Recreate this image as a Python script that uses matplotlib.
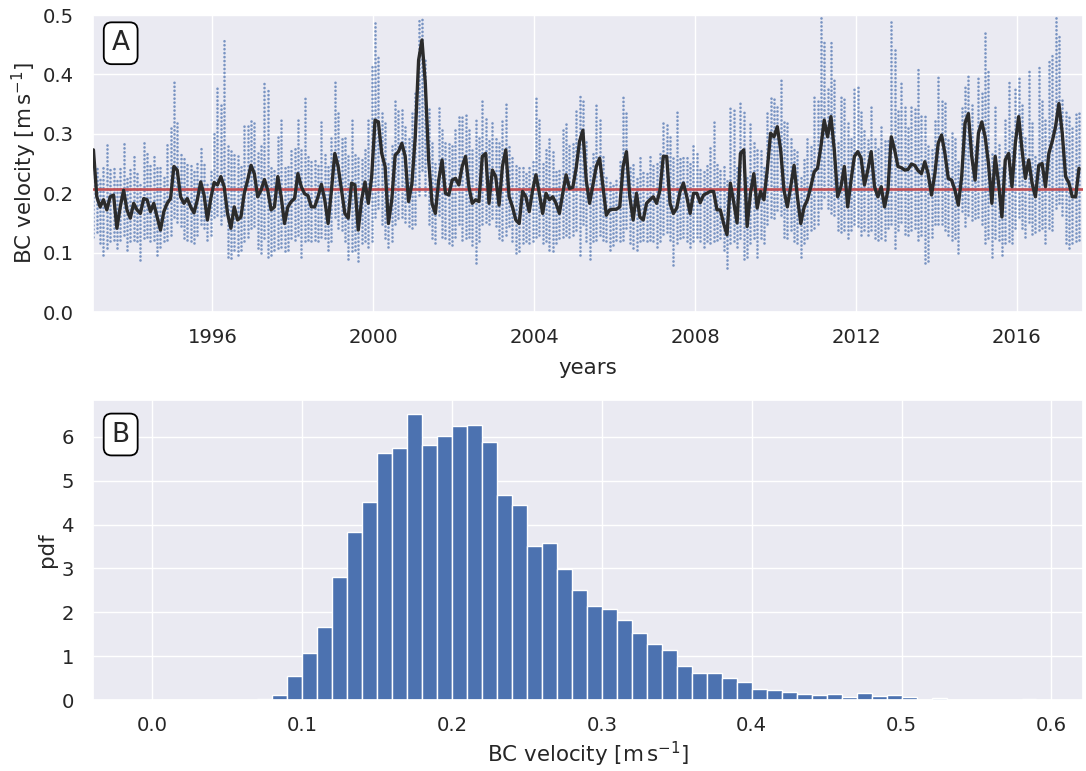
import numpy as np
import matplotlib
matplotlib.use("Agg")
import matplotlib.pyplot as plt
import seaborn as sns

# ---------------------------------------------------------------
# Brazil Current velocity: monthly summaries of the daily record
# (Jan 1993 .. Jul 2017) and the pdf of all daily values.
# ---------------------------------------------------------------
start_year = 1993
n_months = 295

# low-pass filtered velocity (m/s), one value per month
smooth = [
    0.273, 0.194, 0.177, 0.189, 0.172, 0.194, 0.197, 0.141, 0.177, 0.205,
    0.172, 0.158, 0.183, 0.172, 0.166, 0.191, 0.189, 0.169, 0.183, 0.160,
    0.138, 0.169, 0.183, 0.191, 0.245, 0.239, 0.194, 0.183, 0.191, 0.177,
    0.167, 0.189, 0.219, 0.197, 0.155, 0.191, 0.218, 0.214, 0.228, 0.211,
    0.166, 0.141, 0.177, 0.155, 0.160, 0.200, 0.222, 0.247, 0.233, 0.194,
    0.205, 0.223, 0.205, 0.172, 0.177, 0.228, 0.194, 0.149, 0.177, 0.186,
    0.191, 0.233, 0.211, 0.199, 0.196, 0.177, 0.177, 0.194, 0.215, 0.189,
    0.149, 0.205, 0.267, 0.245, 0.205, 0.166, 0.158, 0.217, 0.214, 0.138,
    0.189, 0.219, 0.183, 0.228, 0.323, 0.320, 0.267, 0.245, 0.149, 0.189,
    0.264, 0.270, 0.284, 0.262, 0.186, 0.216, 0.295, 0.424, 0.458, 0.385,
    0.256, 0.183, 0.166, 0.222, 0.256, 0.200, 0.197, 0.222, 0.225, 0.214,
    0.245, 0.262, 0.211, 0.183, 0.189, 0.186, 0.262, 0.267, 0.183, 0.239,
    0.228, 0.180, 0.245, 0.273, 0.194, 0.177, 0.155, 0.149, 0.203, 0.194,
    0.169, 0.205, 0.231, 0.200, 0.166, 0.200, 0.189, 0.194, 0.183, 0.166,
    0.200, 0.231, 0.208, 0.210, 0.242, 0.287, 0.306, 0.222, 0.183, 0.214,
    0.245, 0.259, 0.211, 0.163, 0.172, 0.173, 0.173, 0.177, 0.245, 0.270,
    0.194, 0.155, 0.200, 0.160, 0.155, 0.183, 0.189, 0.194, 0.183, 0.205,
    0.262, 0.262, 0.183, 0.166, 0.175, 0.203, 0.217, 0.194, 0.166, 0.200,
    0.200, 0.184, 0.197, 0.200, 0.203, 0.203, 0.172, 0.172, 0.149, 0.130,
    0.217, 0.185, 0.150, 0.267, 0.273, 0.144, 0.200, 0.233, 0.175, 0.203,
    0.189, 0.239, 0.301, 0.295, 0.312, 0.273, 0.205, 0.177, 0.211, 0.247,
    0.194, 0.149, 0.177, 0.189, 0.211, 0.236, 0.242, 0.278, 0.323, 0.295,
    0.329, 0.273, 0.194, 0.211, 0.245, 0.177, 0.222, 0.262, 0.270, 0.259,
    0.214, 0.239, 0.270, 0.211, 0.194, 0.211, 0.177, 0.205, 0.295, 0.273,
    0.245, 0.243, 0.239, 0.240, 0.249, 0.247, 0.238, 0.233, 0.253, 0.233,
    0.197, 0.233, 0.284, 0.298, 0.267, 0.225, 0.222, 0.205, 0.180, 0.228,
    0.318, 0.334, 0.262, 0.222, 0.301, 0.320, 0.295, 0.250, 0.183, 0.262,
    0.217, 0.160, 0.256, 0.267, 0.211, 0.284, 0.329, 0.273, 0.225, 0.256,
    0.217, 0.194, 0.247, 0.250, 0.211, 0.267, 0.287, 0.312, 0.351, 0.301,
    0.228, 0.217, 0.194, 0.194, 0.242,
]

# lowest and highest daily velocity within each month (m/s)
daily_low = [
    0.127, 0.132, 0.116, 0.093, 0.107, 0.116, 0.121, 0.104, 0.121, 0.127,
    0.104, 0.116, 0.121, 0.116, 0.088, 0.121, 0.127, 0.116, 0.121, 0.093,
    0.110, 0.116, 0.121, 0.127, 0.160, 0.149, 0.144, 0.121, 0.121, 0.116,
    0.116, 0.127, 0.149, 0.138, 0.121, 0.127, 0.160, 0.160, 0.149, 0.160,
    0.093, 0.088, 0.104, 0.093, 0.104, 0.116, 0.127, 0.138, 0.144, 0.104,
    0.099, 0.121, 0.093, 0.093, 0.104, 0.104, 0.110, 0.099, 0.104, 0.121,
    0.121, 0.127, 0.093, 0.116, 0.121, 0.116, 0.121, 0.116, 0.127, 0.121,
    0.104, 0.116, 0.160, 0.138, 0.138, 0.116, 0.090, 0.099, 0.104, 0.082,
    0.116, 0.116, 0.110, 0.116, 0.160, 0.172, 0.149, 0.121, 0.110, 0.116,
    0.149, 0.155, 0.160, 0.149, 0.144, 0.138, 0.149, 0.194, 0.239, 0.194,
    0.149, 0.121, 0.116, 0.160, 0.127, 0.121, 0.116, 0.110, 0.127, 0.144,
    0.121, 0.121, 0.127, 0.110, 0.082, 0.116, 0.149, 0.149, 0.149, 0.155,
    0.144, 0.121, 0.121, 0.127, 0.144, 0.116, 0.099, 0.099, 0.116, 0.116,
    0.116, 0.116, 0.127, 0.127, 0.116, 0.116, 0.104, 0.099, 0.116, 0.121,
    0.127, 0.127, 0.127, 0.127, 0.138, 0.093, 0.149, 0.116, 0.090, 0.116,
    0.121, 0.127, 0.121, 0.116, 0.104, 0.110, 0.121, 0.116, 0.121, 0.138,
    0.116, 0.104, 0.104, 0.116, 0.121, 0.116, 0.121, 0.116, 0.110, 0.116,
    0.132, 0.132, 0.121, 0.076, 0.116, 0.121, 0.127, 0.116, 0.110, 0.116,
    0.127, 0.116, 0.110, 0.116, 0.116, 0.116, 0.121, 0.121, 0.104, 0.071,
    0.116, 0.116, 0.110, 0.121, 0.090, 0.090, 0.116, 0.121, 0.093, 0.121,
    0.116, 0.144, 0.160, 0.155, 0.172, 0.160, 0.127, 0.121, 0.138, 0.116,
    0.116, 0.090, 0.116, 0.121, 0.138, 0.138, 0.149, 0.172, 0.194, 0.172,
    0.166, 0.160, 0.138, 0.132, 0.138, 0.121, 0.138, 0.144, 0.144, 0.127,
    0.138, 0.127, 0.138, 0.121, 0.121, 0.121, 0.121, 0.138, 0.149, 0.104,
    0.138, 0.149, 0.132, 0.127, 0.138, 0.138, 0.121, 0.127, 0.082, 0.082,
    0.127, 0.144, 0.149, 0.144, 0.138, 0.127, 0.121, 0.121, 0.099, 0.166,
    0.144, 0.160, 0.155, 0.155, 0.160, 0.144, 0.116, 0.121, 0.093, 0.121,
    0.121, 0.093, 0.116, 0.116, 0.116, 0.138, 0.160, 0.138, 0.127, 0.149,
    0.132, 0.132, 0.138, 0.138, 0.116, 0.138, 0.138, 0.172, 0.183, 0.160,
    0.116, 0.104, 0.116, 0.116, 0.121,
]

daily_high = [
    0.245, 0.245, 0.228, 0.250, 0.281, 0.245, 0.245, 0.222, 0.245, 0.287,
    0.228, 0.245, 0.267, 0.239, 0.217, 0.290, 0.267, 0.250, 0.264, 0.250,
    0.250, 0.228, 0.284, 0.312, 0.388, 0.318, 0.267, 0.262, 0.250, 0.250,
    0.239, 0.256, 0.278, 0.250, 0.217, 0.239, 0.301, 0.379, 0.351, 0.461,
    0.284, 0.273, 0.267, 0.262, 0.250, 0.318, 0.318, 0.323, 0.318, 0.267,
    0.284, 0.391, 0.379, 0.250, 0.239, 0.295, 0.329, 0.245, 0.245, 0.273,
    0.278, 0.329, 0.273, 0.365, 0.267, 0.256, 0.256, 0.250, 0.323, 0.267,
    0.245, 0.295, 0.388, 0.340, 0.295, 0.295, 0.267, 0.323, 0.267, 0.262,
    0.262, 0.278, 0.323, 0.419, 0.486, 0.430, 0.340, 0.318, 0.256, 0.284,
    0.357, 0.340, 0.340, 0.312, 0.295, 0.340, 0.368, 0.497, 0.497, 0.424,
    0.346, 0.284, 0.256, 0.346, 0.306, 0.290, 0.284, 0.284, 0.306, 0.329,
    0.334, 0.334, 0.312, 0.273, 0.323, 0.295, 0.360, 0.329, 0.290, 0.323,
    0.295, 0.284, 0.323, 0.351, 0.284, 0.262, 0.250, 0.250, 0.245, 0.239,
    0.250, 0.256, 0.360, 0.323, 0.256, 0.278, 0.295, 0.273, 0.239, 0.239,
    0.312, 0.318, 0.284, 0.284, 0.340, 0.368, 0.357, 0.290, 0.245, 0.273,
    0.354, 0.323, 0.262, 0.228, 0.222, 0.217, 0.228, 0.256, 0.363, 0.340,
    0.250, 0.250, 0.228, 0.262, 0.239, 0.239, 0.267, 0.250, 0.256, 0.273,
    0.323, 0.318, 0.295, 0.262, 0.340, 0.262, 0.262, 0.262, 0.256, 0.284,
    0.267, 0.245, 0.239, 0.250, 0.278, 0.323, 0.250, 0.239, 0.250, 0.228,
    0.346, 0.340, 0.250, 0.357, 0.340, 0.228, 0.318, 0.290, 0.278, 0.273,
    0.245, 0.340, 0.363, 0.363, 0.346, 0.396, 0.323, 0.318, 0.295, 0.278,
    0.273, 0.228, 0.262, 0.295, 0.284, 0.363, 0.357, 0.497, 0.458, 0.379,
    0.458, 0.396, 0.290, 0.363, 0.363, 0.318, 0.295, 0.379, 0.379, 0.340,
    0.306, 0.290, 0.351, 0.295, 0.278, 0.312, 0.290, 0.295, 0.494, 0.447,
    0.340, 0.385, 0.346, 0.312, 0.346, 0.346, 0.413, 0.334, 0.334, 0.284,
    0.278, 0.323, 0.396, 0.357, 0.357, 0.290, 0.301, 0.295, 0.256, 0.346,
    0.379, 0.399, 0.351, 0.284, 0.396, 0.368, 0.475, 0.407, 0.267, 0.351,
    0.284, 0.245, 0.323, 0.393, 0.306, 0.379, 0.396, 0.351, 0.295, 0.407,
    0.318, 0.267, 0.413, 0.357, 0.323, 0.424, 0.435, 0.497, 0.469, 0.357,
    0.340, 0.329, 0.312, 0.334, 0.340,
]

mean_velocity = 0.207

# histogram of daily velocities: bin edges (m/s) and pdf per bin
bin_edges = np.round(np.arange(0.0, 0.601, 0.01), 2)
pdf = [
    0.00, 0.00, 0.00, 0.00, 0.00, 0.00, 0.00, 0.02, 0.11, 0.54,
    1.07, 1.66, 2.81, 3.82, 4.51, 5.63, 5.74, 6.51, 5.82, 6.01,
    6.25, 6.26, 5.89, 4.67, 4.44, 3.52, 3.59, 2.99, 2.51, 2.15,
    2.08, 1.82, 1.52, 1.27, 1.14, 0.77, 0.61, 0.61, 0.50, 0.41,
    0.26, 0.24, 0.19, 0.13, 0.12, 0.13, 0.08, 0.17, 0.10, 0.11,
    0.06, 0.01, 0.05, 0.01, 0.01, 0.01, 0.01, 0.01, 0.02, 0.00,
]

year_ticks = [1996, 2000, 2004, 2008, 2012, 2016]

# ---------------------------------------------------------------
sns.set_theme(style="darkgrid")
plt.rcParams["font.family"] = ["DejaVu Sans"]

blue = "#4C72B0"
red = "#C44E52"
tick_fs = 14.1
label_fs = 15.4

months = start_year + (np.arange(n_months) + 0.5) / 12.0
low = np.asarray(daily_low)
high = np.asarray(daily_high)

fig = plt.figure(figsize=(10.86, 7.71), dpi=100)
ax1 = fig.add_axes([0.0856, 0.5953, 0.9116, 0.3852])
ax2 = fig.add_axes([0.0856, 0.0920, 0.9116, 0.3892])

# panel A: daily spread drawn as dotted columns, alternate months staggered
for start, phase in ((0, 0.0), (1, 0.75)):
    sel = slice(start, None, 2)
    col = ax1.vlines(months[sel], low[sel], high[sel], colors=blue,
                     linewidth=1.9, alpha=0.72,
                     linestyles=[(phase, (0.05, 1.45))], zorder=2)
    col.set_capstyle("round")
ax1.axhline(mean_velocity, color=red, lw=1.9, zorder=3)
ax1.plot(months, smooth, color="#2b2b2b", lw=2.4, zorder=4,
         solid_joinstyle="round")

ax1.set_xlim(1993.03, 2017.64)
ax1.set_ylim(0, 0.5)
ax1.set_xticks(year_ticks)
ax1.set_xticklabels([str(y) for y in year_ticks])
ax1.set_yticks(np.arange(0, 0.51, 0.1))
ax1.set_yticklabels([f"{v:.1f}" for v in np.arange(0, 0.51, 0.1)])
ax1.set_xlabel("years", fontsize=label_fs, labelpad=8)
ax1.set_ylabel(r"BC velocity [m$\,$s$^{-1}$]", fontsize=label_fs,
               labelpad=3)

# panel B: histogram
ax2.bar(bin_edges[:-1], pdf, width=0.01, align="edge", color=blue,
        edgecolor="white", linewidth=1.0)
ax2.set_xlim(-0.0395, 0.621)
ax2.set_ylim(0, 6.84)
ax2.set_xticks(np.round(np.arange(0, 0.61, 0.1), 1))
ax2.set_xticklabels([f"{v:.1f}" for v in np.arange(0, 0.61, 0.1)])
ax2.set_yticks(range(0, 7))
ax2.set_xlabel(r"BC velocity [m$\,$s$^{-1}$]", fontsize=label_fs,
               labelpad=4)
ax2.set_ylabel("pdf", fontsize=label_fs, labelpad=3)

for ax in (ax1, ax2):
    ax.tick_params(axis="x", labelsize=tick_fs, length=0, pad=11.2)
    ax.tick_params(axis="y", labelsize=tick_fs, length=0, pad=13.7)

for ax, letter, ypos in ((ax1, "A", 0.905), (ax2, "B", 0.885)):
    ax.text(0.028, ypos, letter, transform=ax.transAxes, fontsize=19,
            ha="center", va="center", zorder=6,
            bbox=dict(boxstyle="round,pad=0.3", fc="white", ec="black",
                      lw=1.3))

fig.savefig("out.png", dpi=100)
